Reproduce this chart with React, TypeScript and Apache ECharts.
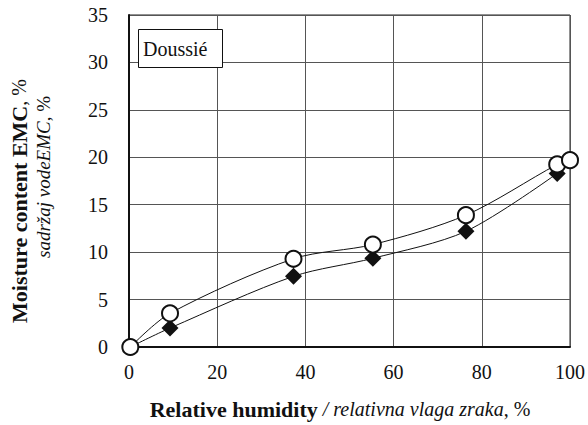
import React, { useEffect, useRef } from "react";
import * as echarts from "echarts";

const xTicks = [0, 20, 40, 60, 80, 100];
const yTicks = [0, 5, 10, 15, 20, 25, 30, 35];
const rhCircle = [0.3, 9.3, 37.3, 55.3, 76.4, 97.1, 100];
const emcCircle = [0, 3.55, 9.3, 10.8, 13.9, 19.25, 19.7];
const rhDiamond = [0.3, 9.3, 37.3, 55.3, 76.4, 97.1];
const emcDiamond = [0, 2.0, 7.45, 9.35, 12.2, 18.3];
const legendLabel = "Doussié";

const FAM = "Liberation Serif";
const TXT = "#111";

const reg = { fontFamily: FAM, fontSize: 20, color: TXT };
const bold = { fontFamily: FAM, fontSize: 22, fontWeight: "bold", color: TXT };
const ital = { fontFamily: FAM, fontSize: 19, fontStyle: "italic", color: TXT };
const italReg = { fontFamily: FAM, fontSize: 19, color: TXT };

export default function App() {
  const ref = useRef<HTMLDivElement>(null);
  useEffect(() => {
    if (!ref.current) return;
    const chart = echarts.init(ref.current, undefined, { renderer: "svg" });
    const circleData = rhCircle.map((x, i) => [x, emcCircle[i]]);
    const diamondData = rhDiamond.map((x, i) => [x, emcDiamond[i]]);
    chart.setOption({
      animation: false,
      backgroundColor: "#fff",
      grid: {
        left: 129,
        right: 11,
        top: 15,
        bottom: 78,
        show: true,
        borderColor: "#222",
        borderWidth: 1,
        backgroundColor: "transparent",
      },
      xAxis: {
        type: "value",
        min: xTicks[0],
        max: xTicks[xTicks.length - 1],
        interval: 20,
        axisLine: { show: true, lineStyle: { color: "#111", width: 2 } },
        axisTick: { show: false },
        axisLabel: { color: TXT, fontFamily: FAM, fontSize: 20, margin: 15 },
        splitLine: { show: true, lineStyle: { color: "#555", width: 1 } },
      },
      yAxis: {
        type: "value",
        min: yTicks[0],
        max: yTicks[yTicks.length - 1],
        interval: 5,
        axisLine: { show: true, lineStyle: { color: "#111", width: 2 } },
        axisTick: { show: false },
        axisLabel: { color: TXT, fontFamily: FAM, fontSize: 20, margin: 21 },
        splitLine: { show: true, lineStyle: { color: "#555", width: 1 } },
      },
      series: [
        {
          type: "line",
          data: diamondData,
          smooth: 0.3,
          clip: false,
          symbol: "diamond",
          symbolSize: 17,
          lineStyle: { color: "#111", width: 1 },
          itemStyle: { color: "#111", borderColor: "#111", borderWidth: 0 },
          z: 3,
        },
        {
          type: "line",
          data: circleData,
          smooth: 0.3,
          clip: false,
          symbol: "circle",
          symbolSize: 16,
          lineStyle: { color: "#111", width: 1 },
          itemStyle: { color: "#fff", borderColor: "#111", borderWidth: 2 },
          z: 4,
        },
      ],
      graphic: [
        {
          type: "rect",
          shape: { x: 138.5, y: 29.5, width: 84, height: 38 },
          style: { fill: "#fff", stroke: "#111", lineWidth: 1 },
          z: 10,
        },
        {
          type: "text",
          x: 143,
          y: 49,
          style: {
            text: legendLabel,
            fontFamily: FAM,
            fontSize: 20,
            fill: TXT,
            verticalAlign: "middle",
          },
          z: 11,
        },
        {
          type: "text",
          x: 340,
          y: 409,
          style: {
            text: "{b|Relative humidity} {i|/ relativna vlaga zraka}{r|, %}",
            align: "center",
            verticalAlign: "middle",
            fill: TXT,
            fontFamily: FAM,
            fontSize: 20,
            rich: { b: bold, i: { ...ital, fontSize: 20 }, r: reg },
          },
        },
        {
          type: "text",
          x: 19,
          y: 201,
          rotation: Math.PI / 2,
          style: {
            text: "{b|Moisture content EMC}{r|, %}",
            align: "center",
            verticalAlign: "middle",
            fill: TXT,
            fontFamily: FAM,
            fontSize: 20,
            rich: { b: bold, r: reg },
          },
        },
        {
          type: "text",
          x: 43,
          y: 177,
          rotation: Math.PI / 2,
          style: {
            text: "{i|sadržaj vodeEMC}{r|, %}",
            align: "center",
            verticalAlign: "middle",
            fill: TXT,
            fontFamily: FAM,
            fontSize: 19,
            rich: { i: ital, r: italReg },
          },
        },
      ],
    });
    return () => chart.dispose();
  }, []);
  return <div ref={ref} style={{ width: 588, height: 425, position: "absolute", left: 0, top: 0 }} />;
}
